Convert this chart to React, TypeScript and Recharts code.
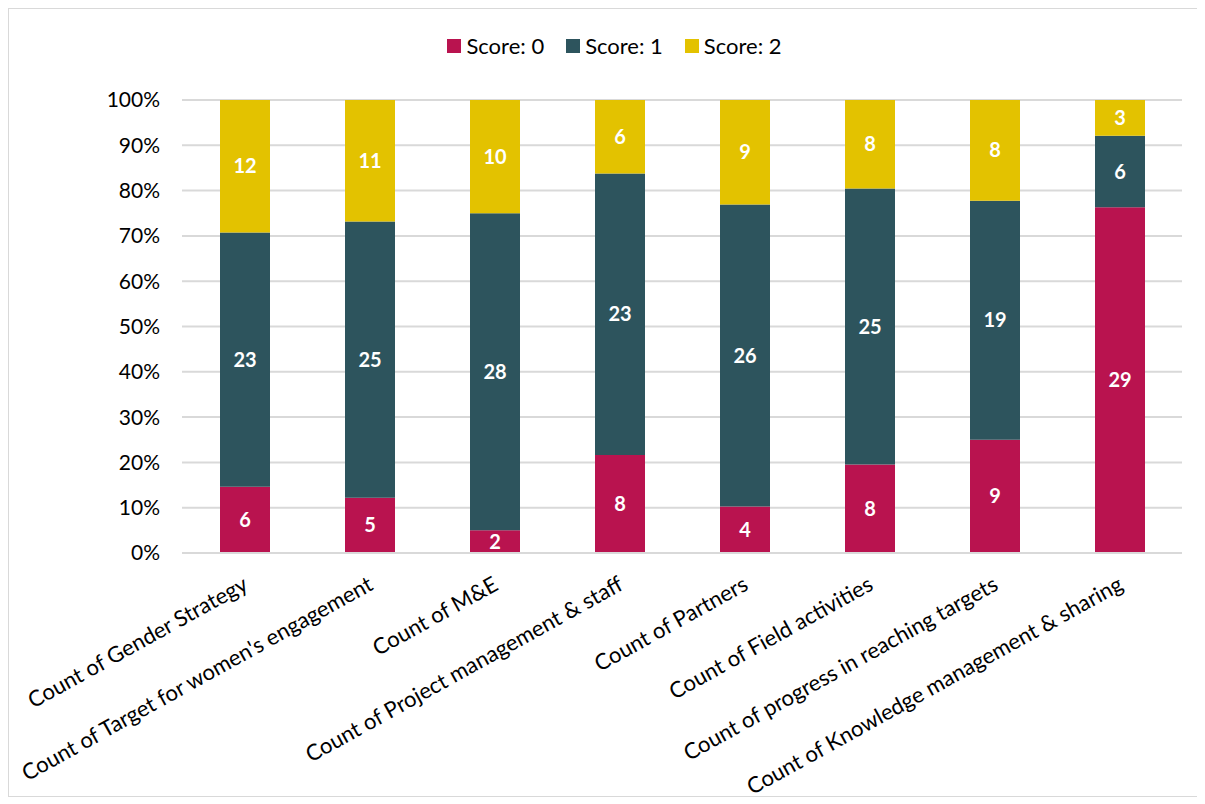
import React from "react";
import { BarChart, Bar, XAxis, YAxis, CartesianGrid, Legend, LabelList } from "recharts";

const categories = [
  "Count of Gender Strategy",
  "Count of Target for women's engagement",
  "Count of M&E",
  "Count of Project management & staff",
  "Count of Partners",
  "Count of Field activities",
  "Count of progress in reaching targets",
  "Count of Knowledge management & sharing",
];
const score0 = [6, 5, 2, 8, 4, 8, 9, 29];
const score1 = [23, 25, 28, 23, 26, 25, 19, 6];
const score2 = [12, 11, 10, 6, 9, 8, 8, 3];
const yTicks = [0, 0.1, 0.2, 0.3, 0.4, 0.5, 0.6, 0.7, 0.8, 0.9, 1];

const seriesInfo = [
  { key: "s0", name: "Score: 0", color: "#B9134F" },
  { key: "s1", name: "Score: 1", color: "#2D545D" },
  { key: "s2", name: "Score: 2", color: "#E3C200" },
];

const data = categories.map((c, i) => ({ name: c, s0: score0[i], s1: score1[i], s2: score2[i] }));

const FONT = "Lato, 'Open Sans', sans-serif";

const XTick = (props: any) => {
  const { x, y, payload } = props;
  const tx = x + 5;
  const ty = y + 28;
  return (
    <text
      x={tx}
      y={ty}
      textAnchor="end"
      fontSize={22}
      fontFamily={FONT}
      fill="#000"
      transform={`rotate(-29, ${tx}, ${ty})`}
    >
      {payload.value}
    </text>
  );
};

const LegendContent = () => (
  <div style={{ display: "flex", justifyContent: "center", fontFamily: FONT, fontSize: 22, color: "#000", height: 24, lineHeight: "24px", paddingLeft: 22 }}>
    {seriesInfo.map((s) => (
      <div key={s.key} style={{ display: "flex", alignItems: "center", margin: "0 11px" }}>
        <span style={{ display: "inline-block", width: 14, height: 14, background: s.color, marginRight: 5 }} />
        <span>{s.name}</span>
      </div>
    ))}
  </div>
);

export default function App() {
  return (
    <div style={{ width: 1189, height: 787, border: "1px solid #d9d9d9", background: "#fff" }}>
      <BarChart
        width={1189}
        height={787}
        data={data}
        stackOffset="expand"
        margin={{ top: 67, right: 16, left: 93, bottom: 0 }}
        barCategoryGap={0}
      >
        <CartesianGrid vertical={false} stroke="#d9d9d9" strokeWidth={2} />
        <Legend
          verticalAlign="top"
          content={<LegendContent />}
          wrapperStyle={{ top: 25, left: 0, width: 1189 }}
        />
        <XAxis
          dataKey="name"
          interval={0}
          tickLine={false}
          axisLine={{ stroke: "#d9d9d9", strokeWidth: 2 }}
          tick={<XTick />}
          height={243}
        />
        <YAxis
          domain={[0, 1]}
          ticks={yTicks}
          tickFormatter={(v: number) => `${Math.round(v * 100)}%`}
          tickLine={false}
          axisLine={false}
          tickSize={0}
          tickMargin={22}
          width={80}
          tick={{ fontSize: 21, fontFamily: FONT, fill: "#000" }}
          interval={0}
        />
        {seriesInfo.map((s) => (
          <Bar key={s.key} dataKey={s.key} name={s.name} stackId="a" fill={s.color} barSize={50} isAnimationActive={false}>
            <LabelList
              dataKey={s.key}
              position="center"
              fill="#fff"
              fontSize={20}
              fontWeight="bold"
              fontFamily={FONT}
            />
          </Bar>
        ))}
      </BarChart>
    </div>
  );
}
